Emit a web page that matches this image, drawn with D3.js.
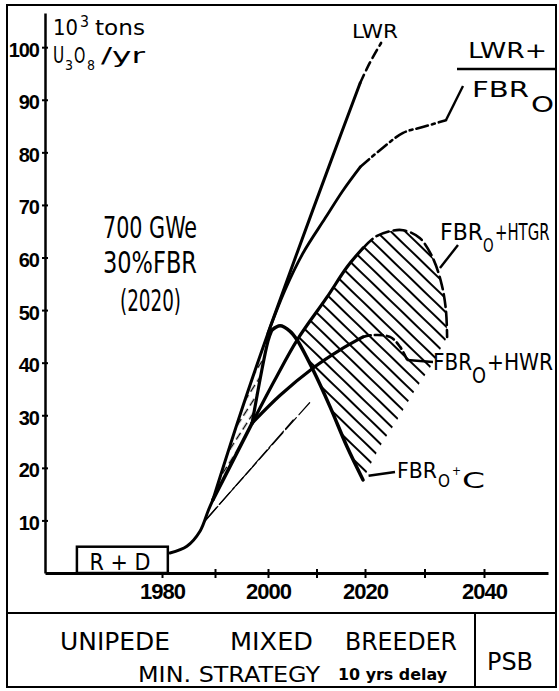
<!DOCTYPE html>
<html>
<head>
<meta charset="utf-8">
<script src="https://cdn.jsdelivr.net/npm/d3@7"></script>
<style>
  body { margin: 0; background: #fff; }
  text { fill: #000; }
</style>
</head>
<body>
<svg id="chart" width="559" height="691"></svg>
<script>
// axis ticks
var yearTicks = [1980, 1990, 2000, 2010, 2020, 2030, 2040];
var yearLabels = [1980, 2000, 2020, 2040];
var valueTicks = [10, 20, 30, 40, 50, 60, 70, 80, 90, 100];

// curves, [year, 10^3 t U3O8/yr]
var baseCurve = [[1981.5, 3.8], [1984.7, 5.1], [1987.2, 8.0], [1988.7, 11.8], [1989.6, 13.9]];
var lwrSolid = [[1989.6, 13.9], [1994.7, 30.0], [2000, 45.6], [2006.2, 61.4], [2012.8, 77.9], [2019, 93.2]];
var lwrDashed = [[2019, 93.2], [2020.8, 97.0], [2022.7, 100.8]];
var lwrFbrSolid = [[2000, 45.6], [2003.5, 53.8], [2007.2, 60.8], [2011.8, 67.5], [2015.5, 72.8], [2019, 77.2]];
var lwrFbrDashed = [[2019, 77.2], [2022.5, 80.4], [2026.4, 83.7], [2029.7, 84.8], [2033.6, 86.1]];
var trunk = [[1989.6, 13.9], [1997, 28.5]];
var fbrCRise = [[1997, 28.5], [2000, 44.1], [2000.8, 46.2]];
var fbrCFall = [[2000.8, 46.2], [2002.5, 47], [2004.5, 46], [2006, 44.3], [2009.3, 38.6], [2012.8, 31.6],
                [2016.3, 24], [2019.6, 17.7]];
var htgrSolid = [[1997, 28.5], [2001.4, 36.7], [2006, 44.3], [2012.2, 52.5], [2016.3, 58.2], [2019.6, 61.8]];
var htgrDashed = [[2019.6, 61.8], [2021.7, 63.9], [2024.2, 65], [2026.4, 65.2], [2029.2, 63.7], [2031.4, 59.9],
                  [2032.9, 54.8], [2033.6, 50], [2033.8, 44.9]];
var htgrLowerEdge = [[2033.8, 44.9], [2030.9, 39.0], [2028.1, 34.2], [2025.4, 29.1], [2022.5, 24], [2019.6, 17.7]];
var hwrSolid = [[1997, 28.5], [2002.5, 33.8], [2009.3, 39], [2014.8, 42.4], [2019.6, 44.9]];
var hwrDashed = [[2019.6, 44.9], [2020.8, 45.2], [2024.2, 44.9], [2025.9, 43], [2027.1, 40.5]];
var thinA = [[1987.8, 9.5], [2005.2, 29.1]];
var thinB = [[1988.3, 10.2], [2008.7, 32.5]];

var svg = d3.select("#chart");
var cond = "'DejaVu Sans Condensed', 'DejaVu Sans', sans-serif";

var x = d3.scaleLinear()
    .domain([1958, 1980, 2000, 2020, 2040, 2051])
    .range([45, 162, 268, 365, 484, 548]);
var y = d3.scaleLinear().domain([0, 106.5]).range([573, 13]);

var line = d3.line()
    .x(function(d) { return x(d[0]); })
    .y(function(d) { return y(d[1]); })
    .curve(d3.curveCatmullRom.alpha(0.5));

function joined(parts) {
    return parts.map(function(p, i) {
        var s = line(p);
        return i ? s.replace(/^M/, "L") : s;
    }).join("") + "Z";
}

// frame
svg.append("rect").attr("x", 7).attr("y", 5).attr("width", 549).attr("height", 682)
    .attr("fill", "none").attr("stroke", "#000").attr("stroke-width", 2);
svg.append("line").attr("x1", 7).attr("x2", 556).attr("y1", 613).attr("y2", 613)
    .attr("stroke", "#000").attr("stroke-width", 2);
svg.append("line").attr("x1", 475).attr("x2", 475).attr("y1", 613).attr("y2", 687)
    .attr("stroke", "#000").attr("stroke-width", 2);

var defs = svg.append("defs");
defs.append("pattern").attr("id", "hatchHeavy").attr("patternUnits", "userSpaceOnUse")
    .attr("width", 10).attr("height", 10).attr("patternTransform", "rotate(44)")
    .append("line").attr("x1", 0).attr("x2", 10).attr("y1", 5).attr("y2", 5)
    .attr("stroke", "#000").attr("stroke-width", 2);
defs.append("pattern").attr("id", "hatchThin").attr("patternUnits", "userSpaceOnUse")
    .attr("width", 12).attr("height", 7).attr("patternTransform", "rotate(-57)")
    .append("line").attr("x1", 0).attr("x2", 12).attr("y1", 3.5).attr("y2", 3.5)
    .attr("stroke", "#000").attr("stroke-width", 1.4).attr("stroke-dasharray", "8,4");

// hatched areas
svg.append("path")
    .attr("d", joined([htgrSolid.slice(2), htgrDashed.slice(1), htgrLowerEdge.slice(1),
                       fbrCFall.slice(3).reverse().slice(1)]))
    .attr("fill", "url(#hatchHeavy)");
svg.append("path")
    .attr("d", joined([trunk, fbrCRise.slice(1), lwrSolid.slice(0, 3).reverse()]))
    .attr("fill", "url(#hatchThin)");

// axes
var xAxis = d3.axisBottom(x).tickValues(yearTicks).tickSize(5).tickSizeOuter(0)
    .tickFormat(function(d) { return yearLabels.indexOf(d) >= 0 ? d : ""; });
var gx = svg.append("g").attr("transform", "translate(0,573)").call(xAxis);
gx.select(".domain").attr("stroke-width", 3);
gx.selectAll(".tick line").attr("y1", -4).attr("y2", 5).attr("stroke-width", 2);
gx.selectAll(".tick text").attr("y", 10)
    .attr("font-family", "'Liberation Sans', Arial, sans-serif").attr("font-weight", "bold")
    .attr("font-size", 22).attr("letter-spacing", -1);

var yAxis = d3.axisLeft(y).tickValues(valueTicks).tickSize(3).tickPadding(3).tickSizeOuter(0);
var gy = svg.append("g").attr("transform", "translate(45,0)").call(yAxis);
gy.select(".domain").attr("stroke-width", 2.5);
gy.selectAll(".tick line").attr("x1", 3).attr("x2", -3).attr("stroke-width", 2);
gy.selectAll(".tick text").attr("dy", "0.45em")
    .attr("font-family", "'Liberation Sans', Arial, sans-serif").attr("font-weight", "bold")
    .attr("font-size", 20).attr("letter-spacing", -1);

// R + D box
svg.append("rect").attr("x", x(1964)).attr("y", y(5)).attr("width", x(1981.1) - x(1964)).attr("height", y(0) - y(5))
    .attr("fill", "#fff").attr("stroke", "#000").attr("stroke-width", 2.5);
svg.append("text").attr("x", 120).attr("y", 570).attr("text-anchor", "middle")
    .attr("font-family", cond).attr("font-size", 23).text("R + D");

// curves
function curve(data, width, dash) {
    svg.append("path").attr("d", line(data)).attr("fill", "none").attr("stroke", "#000")
        .attr("stroke-width", width).attr("stroke-linecap", "round").attr("stroke-linejoin", "round")
        .attr("stroke-dasharray", dash || null);
}
curve(thinA, 1.2, "22,3");
curve(thinB, 1.2, "16,4");
curve(baseCurve, 3);
curve(lwrSolid, 3);
curve(lwrDashed, 2.6, "9,5");
curve(lwrFbrSolid, 2.8);
curve(lwrFbrDashed, 2.6, "12,4,3,4");
curve(trunk, 3.5);
curve(fbrCRise, 3.2);
curve(fbrCFall, 3.5);
curve(htgrSolid, 3.2);
curve(htgrDashed, 2.6, "13,5");
curve(hwrSolid, 3.2);
curve(hwrDashed, 2.6, "8,4");

// leaders
function leader(from, tx, ty) {
    svg.append("line").attr("x1", x(from[0])).attr("y1", y(from[1])).attr("x2", tx).attr("y2", ty)
        .attr("stroke", "#000").attr("stroke-width", 2.4);
}
leader(lwrFbrDashed[lwrFbrDashed.length - 1], 463, 86);
leader([2032.6, 58], 458, 245);
leader(hwrDashed[hwrDashed.length - 1], 433, 362);
leader([2020.6, 18.5], 395, 472);

// text helper
function txt(s, px, py, size, opts) {
    opts = opts || {};
    var t = svg.append("text").attr("x", px).attr("y", py)
        .attr("font-family", opts.family || cond).attr("font-size", size)
        .attr("text-anchor", opts.anchor || "start").text(s);
    if (opts.weight) t.attr("font-weight", opts.weight);
    if (opts.len) t.attr("textLength", opts.len).attr("lengthAdjust", "spacingAndGlyphs");
    return t;
}
// narrow text drawn small and stretched upwards
function tall(s, px, py, size, sy) {
    return svg.append("text").attr("transform", "translate(" + px + "," + py + ") scale(1," + sy + ")")
        .attr("font-family", cond).attr("font-size", size).text(s);
}

// y title
txt("10", 53, 35, 22, { len: 25 });
txt("3", 80, 27, 15, { len: 9 });
txt("tons", 95, 35, 22, { len: 50 });
tall("U", 53, 63, 17, 1.3);
txt("3", 65, 70, 14);
tall("O", 74, 63, 16, 1.35);
txt("8", 87, 70, 14);
txt("/yr", 101, 63, 22, { len: 44 });

// big note
txt("700 GWe", 103, 238, 31, { len: 94 });
txt("30%FBR", 103, 273, 31, { len: 94 });
txt("(2020)", 120, 311, 31, { len: 61 });

// curve labels
txt("LWR", 352, 38, 20, { len: 46 });
txt("LWR+", 468, 58, 21, { len: 79 });
svg.append("line").attr("x1", 457).attr("x2", 555).attr("y1", 69).attr("y2", 69)
    .attr("stroke", "#000").attr("stroke-width", 2.4);
txt("FBR", 472, 97, 21, { len: 57 });
txt("O", 531, 112, 22, { len: 23 });

txt("FBR", 440, 240, 23, { len: 43 });
tall("O", 483, 252, 15, 1.3);
tall("+HTGR", 495, 240, 16.5, 1.35);

txt("FBR", 433, 370, 23, { len: 39 });
txt("O", 472, 383, 21, { len: 14 });
txt("+HWR", 487, 370, 23, { len: 66 });

txt("FBR", 397, 478, 22, { len: 40 });
txt("O", 438, 487, 17, { len: 12 });
txt("+", 452, 475, 12);
txt("C", 462, 488, 22, { len: 23 });

// bottom panel
var wide = "'DejaVu Sans', sans-serif";
txt("UNIPEDE", 60, 650, 24, { family: wide, len: 110 });
txt("MIXED", 230, 650, 24, { family: wide, len: 83 });
txt("BREEDER", 345, 650, 24, { family: wide, len: 112 });
txt("MIN. STRATEGY", 138, 682, 22, { family: wide, len: 182 });
txt("10 yrs delay", 338, 680, 16, { family: wide, weight: "bold", len: 109 });
txt("PSB", 487, 670, 24, { family: wide, len: 46 });
</script>
</body>
</html>
